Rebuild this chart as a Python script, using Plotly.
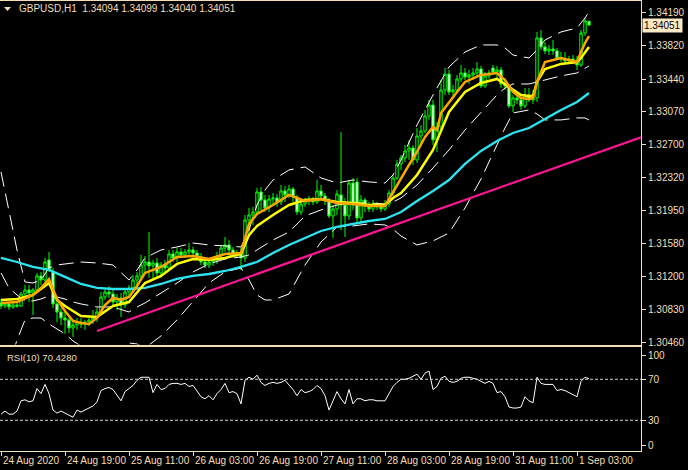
import plotly.graph_objects as go

# ---------------- data (GBPUSD H1) ----------------
open_ = [1.30905, 1.30871, 1.30894, 1.30860, 1.30882, 1.30871, 1.31007, 1.31052, 1.31018, 1.31052,
         1.31211, 1.31165, 1.31392, 1.31256, 1.30894, 1.30803, 1.30735, 1.30713, 1.30622, 1.30656,
         1.30690, 1.30667, 1.30690, 1.30713, 1.30735, 1.30803, 1.30973, 1.31029, 1.31007, 1.30916,
         1.30962, 1.30882, 1.31029, 1.31075, 1.31165, 1.31211, 1.31335, 1.31369, 1.31324, 1.31358,
         1.31245, 1.31335, 1.31301, 1.31460, 1.31415, 1.31483, 1.31449, 1.31483, 1.31505, 1.31471,
         1.31426, 1.31369, 1.31335, 1.31369, 1.31392, 1.31437, 1.31528, 1.31562, 1.31505, 1.31449,
         1.31471, 1.31415, 1.31845, 1.31901, 1.31935, 1.32162, 1.32071, 1.31980, 1.32082, 1.32094,
         1.32048, 1.32173, 1.32128, 1.32195, 1.32105, 1.31935, 1.32026, 1.32060, 1.32082, 1.32048,
         1.32173, 1.32116, 1.32060, 1.31890, 1.31969, 1.32128, 1.32014, 1.31890, 1.32263, 1.32275,
         1.31867, 1.32071, 1.32003, 1.31969, 1.32026, 1.31992, 1.31969, 1.32026, 1.32150, 1.32320,
         1.32479, 1.32546, 1.32626, 1.32660, 1.32524, 1.32795, 1.32852, 1.33022, 1.33146, 1.32750,
         1.32897, 1.33316, 1.33497, 1.33294, 1.33316, 1.33441, 1.33509, 1.33463, 1.33486, 1.33509,
         1.33554, 1.33361, 1.33475, 1.33565, 1.33520, 1.33543, 1.33384, 1.33361, 1.33135, 1.33226,
         1.33203, 1.33135, 1.33260, 1.33203, 1.33226, 1.33905, 1.33803, 1.33758, 1.33780, 1.33758,
         1.33678, 1.33667, 1.33644, 1.33667, 1.33633, 1.33599, 1.33961, 1.34094]
high = [1.30950, 1.30916, 1.30916, 1.30905, 1.30916, 1.31029, 1.31108, 1.31108, 1.31075, 1.31245,
        1.31256, 1.31415, 1.31483, 1.31301, 1.30939, 1.30848, 1.30803, 1.30735, 1.30690, 1.30735,
        1.30735, 1.30713, 1.30735, 1.30826, 1.30848, 1.31029, 1.31075, 1.31097, 1.31052, 1.31007,
        1.31018, 1.31052, 1.31108, 1.31222, 1.31256, 1.31449, 1.31437, 1.31709, 1.31392, 1.31415,
        1.31369, 1.31392, 1.31505, 1.31505, 1.31528, 1.31528, 1.31516, 1.31584, 1.31539, 1.31505,
        1.31471, 1.31415, 1.31392, 1.31426, 1.31483, 1.31562, 1.31652, 1.31618, 1.31539, 1.31505,
        1.31528, 1.31901, 1.31980, 1.31992, 1.32207, 1.32218, 1.32128, 1.32128, 1.32150, 1.32139,
        1.32241, 1.32229, 1.32241, 1.32218, 1.32128, 1.32071, 1.32094, 1.32116, 1.32105, 1.32297,
        1.32241, 1.32150, 1.32094, 1.32014, 1.32184, 1.32841, 1.32094, 1.32297, 1.32320, 1.32320,
        1.32128, 1.32094, 1.32048, 1.32071, 1.32048, 1.32037, 1.32071, 1.32184, 1.32354, 1.32524,
        1.32580, 1.32694, 1.32750, 1.32694, 1.32886, 1.32920, 1.33090, 1.33203, 1.33203, 1.32954,
        1.33429, 1.33565, 1.33543, 1.33373, 1.33486, 1.33599, 1.33565, 1.33543, 1.33565, 1.33633,
        1.33588, 1.33520, 1.33543, 1.33599, 1.33588, 1.33577, 1.33452, 1.33384, 1.33260, 1.33271,
        1.33226, 1.33339, 1.33339, 1.33316, 1.33973, 1.33995, 1.33860, 1.33826, 1.33882, 1.33792,
        1.33746, 1.33746, 1.33701, 1.33712, 1.33701, 1.33995, 1.34131, 1.34099]
low = [1.30837, 1.30848, 1.30826, 1.30837, 1.30848, 1.30860, 1.30973, 1.30916, 1.30769, 1.31029,
       1.31108, 1.31143, 1.31256, 1.30848, 1.30690, 1.30656, 1.30555, 1.30566, 1.30520, 1.30600,
       1.30622, 1.30600, 1.30645, 1.30667, 1.30690, 1.30781, 1.30939, 1.30962, 1.30882, 1.30826,
       1.30747, 1.30848, 1.30962, 1.31029, 1.31075, 1.31165, 1.31256, 1.31188, 1.31165, 1.31200,
       1.31188, 1.31233, 1.31279, 1.31369, 1.31369, 1.31415, 1.31415, 1.31437, 1.31437, 1.31392,
       1.31335, 1.31301, 1.31301, 1.31324, 1.31347, 1.31392, 1.31483, 1.31415, 1.31415, 1.31415,
       1.31279, 1.31369, 1.31674, 1.31788, 1.31901, 1.31958, 1.31935, 1.31935, 1.32014, 1.31992,
       1.32014, 1.32048, 1.32094, 1.32048, 1.31901, 1.31901, 1.31992, 1.32014, 1.32014, 1.32026,
       1.32071, 1.32014, 1.31867, 1.31641, 1.31901, 1.31731, 1.31652, 1.31845, 1.31958, 1.31822,
       1.31822, 1.31935, 1.31935, 1.31935, 1.31958, 1.31935, 1.31946, 1.31992, 1.32116, 1.32297,
       1.32411, 1.32501, 1.32524, 1.32467, 1.32490, 1.32694, 1.32829, 1.32977, 1.32694, 1.32614,
       1.32863, 1.33260, 1.33260, 1.33237, 1.33282, 1.33407, 1.33429, 1.33384, 1.33429, 1.33463,
       1.33339, 1.33339, 1.33441, 1.33486, 1.33452, 1.33339, 1.33316, 1.33112, 1.33067, 1.33158,
       1.33090, 1.33112, 1.33180, 1.33158, 1.33180, 1.33769, 1.33724, 1.33712, 1.33712, 1.33656,
       1.33633, 1.33610, 1.33622, 1.33610, 1.33543, 1.33577, 1.33927, 1.34040]
close = [1.30871, 1.30894, 1.30860, 1.30882, 1.30871, 1.31007, 1.31052, 1.31018, 1.31052, 1.31211,
         1.31165, 1.31369, 1.31279, 1.30894, 1.30803, 1.30735, 1.30713, 1.30622, 1.30656, 1.30690,
         1.30667, 1.30690, 1.30713, 1.30735, 1.30803, 1.30973, 1.31029, 1.31007, 1.30916, 1.30962,
         1.30882, 1.31029, 1.31075, 1.31165, 1.31211, 1.31335, 1.31369, 1.31324, 1.31358, 1.31245,
         1.31335, 1.31301, 1.31460, 1.31415, 1.31483, 1.31449, 1.31483, 1.31505, 1.31471, 1.31426,
         1.31369, 1.31335, 1.31369, 1.31392, 1.31437, 1.31528, 1.31562, 1.31505, 1.31449, 1.31471,
         1.31415, 1.31845, 1.31901, 1.31935, 1.32162, 1.32071, 1.31980, 1.32082, 1.32094, 1.32048,
         1.32173, 1.32128, 1.32195, 1.32105, 1.31935, 1.32026, 1.32060, 1.32082, 1.32048, 1.32173,
         1.32116, 1.32060, 1.31890, 1.31969, 1.32139, 1.32014, 1.31890, 1.32263, 1.32014, 1.31867,
         1.32071, 1.32003, 1.31969, 1.32026, 1.31992, 1.31969, 1.32026, 1.32150, 1.32320, 1.32479,
         1.32546, 1.32626, 1.32660, 1.32524, 1.32795, 1.32852, 1.33022, 1.33146, 1.32750, 1.32897,
         1.33316, 1.33497, 1.33294, 1.33316, 1.33441, 1.33509, 1.33463, 1.33486, 1.33509, 1.33554,
         1.33361, 1.33475, 1.33509, 1.33520, 1.33543, 1.33384, 1.33361, 1.33135, 1.33226, 1.33203,
         1.33135, 1.33260, 1.33203, 1.33226, 1.33905, 1.33803, 1.33758, 1.33780, 1.33758, 1.33678,
         1.33667, 1.33644, 1.33667, 1.33633, 1.33599, 1.33961, 1.34097, 1.34051]

# moving averages (sampled at bar indices)
orange_idx = [0, 4, 8, 10, 12, 14, 16, 18, 20, 22, 24, 26, 28, 30, 32, 34, 36, 40, 44, 48, 52, 56, 60,
              62, 64, 68, 72, 76, 80, 84, 88, 92, 96, 98, 100, 102, 104, 106, 108, 109, 110, 112, 114,
              116, 120, 124, 126, 128, 130, 132, 133, 134, 136, 140, 144, 145, 146, 147]
orange_ma = [1.30905, 1.30916, 1.30996, 1.31075, 1.31176, 1.30950, 1.30814, 1.30701, 1.30679, 1.30667,
             1.30735, 1.30882, 1.30962, 1.30939, 1.30973, 1.31097, 1.31245, 1.31313, 1.31426, 1.31437,
             1.31403, 1.31460, 1.31471, 1.31800, 1.31913, 1.32014, 1.32128, 1.32060, 1.32082, 1.32037,
             1.32026, 1.32003, 1.32003, 1.32162, 1.32320, 1.32467, 1.32614, 1.32784, 1.32897, 1.32863,
             1.33056, 1.33180, 1.33294, 1.33407, 1.33486, 1.33509, 1.33429, 1.33294, 1.33226, 1.33215,
             1.33226, 1.33407, 1.33633, 1.33678, 1.33633, 1.33746, 1.33848, 1.33927]
yellow_idx = [0, 4, 8, 12, 14, 16, 20, 24, 28, 32, 36, 40, 44, 48, 52, 56, 60, 62, 64, 68, 72, 76, 80,
              84, 88, 92, 96, 98, 100, 104, 108, 112, 116, 120, 124, 128, 130, 132, 133, 134, 136, 140,
              144, 145, 146, 147]
yellow_ma = [1.30939, 1.30950, 1.30996, 1.31131, 1.30939, 1.30871, 1.30758, 1.30747, 1.30871, 1.30916,
             1.31131, 1.31211, 1.31347, 1.31403, 1.31392, 1.31415, 1.31460, 1.31674, 1.31777, 1.31901,
             1.32014, 1.32071, 1.32082, 1.32048, 1.32037, 1.32014, 1.32014, 1.32094, 1.32150, 1.32354,
             1.32637, 1.33067, 1.33294, 1.33395, 1.33441, 1.33316, 1.33260, 1.33249, 1.33249, 1.33407,
             1.33554, 1.33611, 1.33633, 1.33678, 1.33746, 1.33803]
cyan_idx = [0, 4, 8, 12, 16, 20, 24, 28, 32, 36, 40, 44, 48, 52, 56, 60, 64, 68, 72, 76, 80, 84, 88,
            92, 96, 100, 104, 108, 112, 116, 120, 124, 128, 132, 136, 140, 144, 147]
cyan_ma = [1.31415, 1.31369, 1.31313, 1.31279, 1.31200, 1.31120, 1.31075, 1.31063, 1.31063, 1.31075,
           1.31120, 1.31177, 1.31211, 1.31233, 1.31267, 1.31313, 1.31369, 1.31471, 1.31562, 1.31641,
           1.31720, 1.31766, 1.31800, 1.31833, 1.31856, 1.31935, 1.32060, 1.32173, 1.32297, 1.32479,
           1.32626, 1.32739, 1.32829, 1.32886, 1.32988, 1.33090, 1.33180, 1.33282]

# Bollinger bands (sampled at bar indices)
band_idx = [0, 2, 4, 6, 8, 10, 12, 14, 16, 18, 20, 24, 28, 32, 34, 36, 40, 44, 48, 52, 56, 60, 62, 64,
            66, 68, 72, 76, 80, 84, 88, 92, 96, 98, 100, 104, 108, 112, 116, 120, 124, 126, 128, 132,
            134, 136, 140, 144, 146, 147]
band_upper = [1.32388, 1.31958, 1.31505, 1.31143, 1.31131, 1.31165, 1.31301, 1.31335, 1.31347, 1.31358,
              1.31369, 1.31358, 1.31335, 1.31165, 1.31279, 1.31415, 1.31505, 1.31539, 1.31584, 1.31562,
              1.31550, 1.31539, 1.31731, 1.32014, 1.32184, 1.32297, 1.32411, 1.32445, 1.32320, 1.32263,
              1.32297, 1.32275, 1.32263, 1.32354, 1.32524, 1.32920, 1.33260, 1.33577, 1.33746, 1.33826,
              1.33826, 1.33792, 1.33712, 1.33678, 1.33769, 1.33882, 1.33973, 1.34018, 1.34131, 1.34199]
band_mid = [1.31245, 1.31075, 1.30996, 1.30928, 1.30928, 1.30950, 1.30984, 1.30973, 1.30950, 1.30916,
            1.30894, 1.30860, 1.30860, 1.30803, 1.30860, 1.30905, 1.31018, 1.31131, 1.31256, 1.31347,
            1.31403, 1.31426, 1.31449, 1.31505, 1.31562, 1.31618, 1.31709, 1.31890, 1.31958, 1.32014,
            1.32037, 1.32037, 1.32026, 1.32048, 1.32094, 1.32241, 1.32433, 1.32637, 1.32863, 1.33067,
            1.33260, 1.33339, 1.33384, 1.33384, 1.33407, 1.33429, 1.33475, 1.33509, 1.33565, 1.33588]
band_lower = [1.30102, 1.30192, 1.30486, 1.30713, 1.30735, 1.30735, 1.30667, 1.30611, 1.30555, 1.30475,
              1.30418, 1.30362, 1.30384, 1.30452, 1.30441, 1.30396, 1.30532, 1.30713, 1.30928, 1.31131,
              1.31256, 1.31301, 1.31165, 1.30996, 1.30939, 1.30939, 1.31007, 1.31335, 1.31595, 1.31766,
              1.31777, 1.31800, 1.31788, 1.31742, 1.31663, 1.31562, 1.31607, 1.31697, 1.31980, 1.32309,
              1.32694, 1.32886, 1.33056, 1.33090, 1.33045, 1.32977, 1.32977, 1.33000, 1.33000, 1.32977]

# trend line anchors (bar index, price)
trend_idx = [24, 160]
trend_price = [1.30588, 1.32781]

# RSI(10), one value per bar
rsi = [36, 39, 36, 36, 39, 49, 50, 48, 49, 61,
       56, 65, 56, 40, 37, 39, 37, 35, 33, 40,
       38, 40, 42, 44, 48, 59, 61, 62, 60, 55,
       49, 58, 61, 64, 69, 72, 72, 72, 57, 65,
       60, 61, 65, 66, 66, 65, 66, 63, 64, 58,
       53, 51, 54, 50, 56, 60, 66, 57, 58, 56,
       46, 69, 72, 70, 74, 67, 64, 66, 67, 66,
       67, 69, 65, 60, 54, 60, 57, 58, 60, 64,
       61, 54, 40, 49, 58, 51, 46, 60, 46, 51,
       51, 49, 50, 50, 49, 49, 49, 56, 63, 67,
       70, 70, 71, 73, 75, 70, 76, 78, 60, 63,
       71, 73, 68, 67, 68, 71, 72, 72, 71, 70,
       68, 66, 68, 66, 57, 58, 53, 43, 42, 42,
       43, 53, 49, 47, 72, 66, 65, 65, 65, 59,
       60, 59, 57, 55, 53, 68, 72, 70.428]
rsi_levels = [70, 30]
rsi_tick_vals = [5.9, 30, 70, 93.7]
rsi_tick_text = ["0", "30", "70", "100"]

time_tick_idx = [0, 16, 32, 48, 64, 80, 96, 112, 128, 144]
time_labels = ["24 Aug 2020", "24 Aug 19:00", "25 Aug 11:00", "26 Aug 03:00", "26 Aug 19:00",
               "27 Aug 11:00", "28 Aug 03:00", "28 Aug 19:00", "31 Aug 11:00", "1 Sep 03:00"]
price_ticks = [1.34190, 1.33820, 1.33440, 1.33070, 1.32700, 1.32320,
               1.31950, 1.31580, 1.31200, 1.30830, 1.30460]

title_text = "GBPUSD,H1  1.34094 1.34099 1.34040 1.34051"
rsi_text = "RSI(10) 70.4280"

# ---------------- styling ----------------
FG = "#F5DEB3"
FONT = "Liberation Sans, Arial, sans-serif"
FS = 10
W, H = 688, 470
XDOM = [0, 641 / W]
LABEL_X = 646 / W

bars = list(range(len(close)))

fig = go.Figure()

fig.add_trace(go.Candlestick(
    x=bars, open=open_, high=high, low=low, close=close,
    increasing=dict(line=dict(color="#00FF00", width=1), fillcolor="#000000"),
    decreasing=dict(line=dict(color="#00FF00", width=1), fillcolor="#FFFFFF"),
    whiskerwidth=0, hoverinfo="skip", xaxis="x", yaxis="y", showlegend=False))

dash_band = "15px,7px"
for arr in (band_upper, band_mid, band_lower):
    fig.add_trace(go.Scatter(x=band_idx, y=arr, mode="lines",
                             line=dict(color="#FFFFFF", width=1, dash=dash_band),
                             hoverinfo="skip", xaxis="x", yaxis="y"))

fig.add_trace(go.Scatter(x=cyan_idx, y=cyan_ma, mode="lines",
                         line=dict(color="#2CE5F2", width=2.3), hoverinfo="skip", xaxis="x", yaxis="y"))
fig.add_trace(go.Scatter(x=yellow_idx, y=yellow_ma, mode="lines",
                         line=dict(color="#FFFF00", width=2.5), hoverinfo="skip", xaxis="x", yaxis="y"))
fig.add_trace(go.Scatter(x=orange_idx, y=orange_ma, mode="lines",
                         line=dict(color="#FFA500", width=2.5), hoverinfo="skip", xaxis="x", yaxis="y"))
fig.add_trace(go.Scatter(x=trend_idx, y=trend_price, mode="lines",
                         line=dict(color="#FF1493", width=2.3), hoverinfo="skip", xaxis="x", yaxis="y"))

fig.add_trace(go.Scatter(x=bars, y=rsi, mode="lines",
                         line=dict(color="#FFFFFF", width=1), hoverinfo="skip", xaxis="x2", yaxis="y2"))

shapes = []
for lv in rsi_levels:
    shapes.append(dict(type="line", xref="x2 domain", x0=0, x1=1, yref="y2", y0=lv, y1=lv,
                       line=dict(color="#D0D0D0", width=1, dash="3px,2px")))
# small triangle before the title
shapes.append(dict(type="path", xref="paper", yref="paper",
                   path="M %f,%f L %f,%f L %f,%f Z" % (4 / W, 1 - 7 / H, 11 / W, 1 - 7 / H, 7.5 / W, 1 - 11 / H),
                   fillcolor=FG, line=dict(color=FG, width=0)))

annotations = [
    dict(text=title_text, xref="paper", yref="paper", x=17 / W, y=1 - 9 / H, xanchor="left",
         yanchor="middle", showarrow=False, font=dict(family=FONT, size=FS, color=FG)),
    dict(text=rsi_text, xref="paper", yref="paper", x=5 / W, y=1 - 357 / H, xanchor="left",
         yanchor="middle", showarrow=False, font=dict(family=FONT, size=FS - 0.5, color=FG)),
]
# price scale labels
for v in price_ticks:
    annotations.append(dict(text=f"{v:.5f}", xref="paper", yref="y", x=LABEL_X, y=v,
                            xanchor="left", yanchor="middle", showarrow=False,
                            font=dict(family=FONT, size=FS, color=FG)))
# current price box
annotations.append(dict(text=f"{close[-1]:.5f}", xref="paper", yref="y", x=642 / W, y=close[-1],
                        xanchor="left", yanchor="middle", showarrow=False, bgcolor="#FFE8C4",
                        borderpad=1, font=dict(family=FONT, size=FS, color="#000000")))
# RSI scale labels
for v, t in zip(rsi_tick_vals, rsi_tick_text):
    annotations.append(dict(text=t, xref="paper", yref="y2", x=LABEL_X, y=v,
                            xanchor="left", yanchor="middle", showarrow=False,
                            font=dict(family=FONT, size=FS, color=FG)))
# time labels
for idx, lab in zip(time_tick_idx, time_labels):
    annotations.append(dict(text=lab, xref="x2", yref="paper", x=idx, y=1 - 460 / H,
                            xanchor="left", yanchor="middle", xshift=0, showarrow=False,
                            font=dict(family=FONT, size=FS, color=FG)))

axis_common = dict(showgrid=False, zeroline=False, showline=True, linecolor=FG, linewidth=1,
                   mirror=True)

fig.update_layout(
    width=W, height=H, margin=dict(l=0, r=0, t=0, b=0),
    paper_bgcolor="#000000", plot_bgcolor="#000000", showlegend=False,
    boxgap=0.15,
    shapes=shapes, annotations=annotations,
    xaxis=dict(domain=XDOM, range=[-0.25, 160], anchor="y", showticklabels=False, ticks="",
               rangeslider=dict(visible=False), **axis_common),
    yaxis=dict(domain=[1 - 344.5 / H, 1 - 0.5 / H], range=[1.30435, 1.34329], anchor="x", side="right",
               tickvals=price_ticks, showticklabels=False, ticks="outside",
               ticklen=4, tickcolor=FG, **axis_common),
    xaxis2=dict(domain=XDOM, range=[-0.25, 160], anchor="y2", matches="x", showticklabels=False,
                tickvals=time_tick_idx, ticks="outside", ticklen=4, tickcolor=FG, **axis_common),
    yaxis2=dict(domain=[1 - 451 / H, 1 - 347 / H], range=[0.05, 101.5], anchor="x2", side="right",
                tickvals=rsi_tick_vals, showticklabels=False, ticks="outside", ticklen=4,
                tickcolor=FG, **axis_common),
)

page_fix = ("document.documentElement.style.margin='0';document.documentElement.style.overflow='hidden';"
            "document.body.style.margin='0';document.body.style.padding='0';"
            "document.body.style.overflow='hidden';document.body.style.background='#000';")
fig.write_html("out.html", post_script=page_fix, config={"displayModeBar": False})
